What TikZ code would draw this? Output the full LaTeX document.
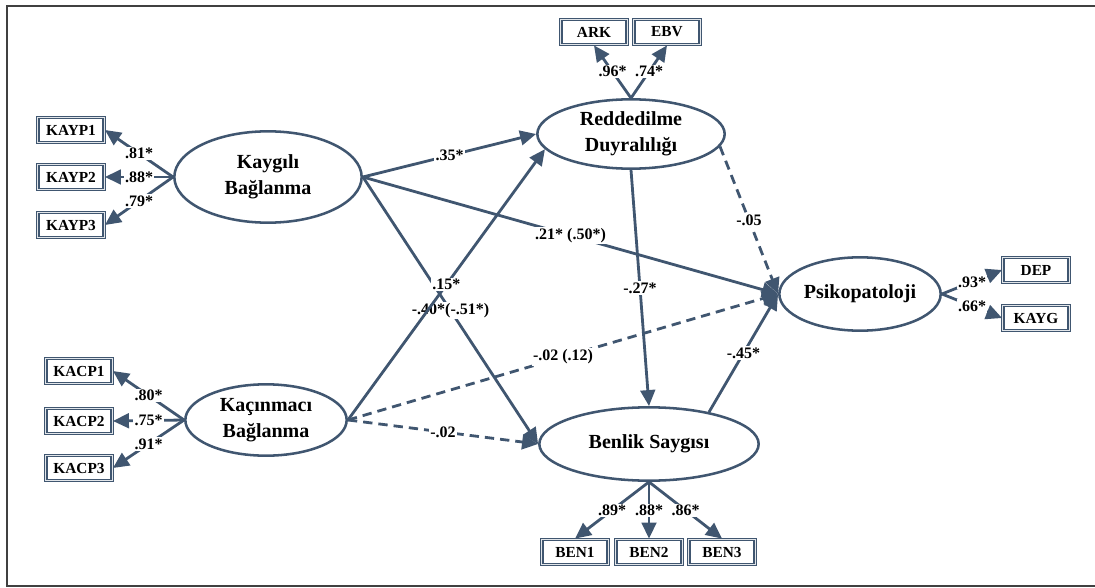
\documentclass[tikz,border=0pt]{standalone}
\usepackage{fontspec}
\setmainfont{Liberation Serif}
\usetikzlibrary{arrows.meta,positioning,shapes.geometric}
\definecolor{semline}{RGB}{64,86,112}

\begin{document}
\begin{tikzpicture}[x=0.75pt,y=-0.75pt,on grid,
	latent/.style={ellipse, draw=semline, line width=1.9pt, inner sep=0pt, align=center, text=black,
		font=\fontsize{15}{19.5}\selectfont\bfseries},
	indic/.style={rectangle, draw=semline, line width=1.1pt, double=white!85!semline, double distance=0.5pt,
		minimum width=49.8pt, minimum height=19pt, inner sep=0pt, text=black,
		font=\fontsize{11.5}{13}\selectfont\bfseries},
	coef/.style={fill=white, inner sep=1pt, text=black, font=\fontsize{12}{13}\selectfont\bfseries},
	link/.style={-{Triangle[length=12pt,width=11pt]}, semline, line width=2.1pt},
	nonsig/.style={dash pattern=on 7pt off 4.5pt}]
		\useasboundingbox (0,0) rectangle (1095,588);
		\draw[black!75, line width=1pt] (1095,6) -- (7,6) -- (7,586) -- (1095,586);
		% latent variables
		\node[latent, minimum width=140.5pt, minimum height=68.5pt] (kaygili) at (268,177) {Kaygılı\\Bağlanma};
		\node[latent, minimum width=121pt, minimum height=53.5pt] (kacin) at (266,420) {Kaçınmacı\\Bağlanma};
		\node[latent, minimum width=140.5pt, minimum height=52pt] (redd) at (631,134) {Reddedilme\\Duyralılığı};
		\node[latent, minimum width=164.5pt, minimum height=55pt] (benlik) at (649,444) {Benlik Saygısı};
		\node[latent, minimum width=121pt, minimum height=55pt] (psiko) at (860,294) {Psikopatoloji};
		% indicators
		\node[indic] (kayp2) at (71,177) {KAYP2};
		\node[indic] (kayp1) [above=35.25pt of kayp2] {KAYP1};
		\node[indic] (kayp3) [below=36pt of kayp2] {KAYP3};
		\node[indic] (kacp2) at (79,421) {KACP2};
		\node[indic] (kacp1) [above=37.5pt of kacp2] {KACP1};
		\node[indic] (kacp3) [below=35.25pt of kacp2] {KACP3};
		\node[indic] (ark) at (594,32) {ARK};
		\node[indic] (ebv) [right=54.75pt of ark] {EBV};
		\node[indic] (dep) at (1036,270) {DEP};
		\node[indic] (kaygbox) [below=36pt of dep] {KAYG};
		\node[indic] (ben2) at (649,552) {BEN2};
		\node[indic] (ben1) [left=55.5pt of ben2] {BEN1};
		\node[indic] (ben3) [right=54.75pt of ben2] {BEN3};
		% loadings
		\path[link]
		(kaygili.west) edge node[coef] {.81*} (kayp1.east)
		edge node[coef] {.88*} (kayp2.east)
		edge node[coef] {.79*} (kayp3.east)
		(kacin.west) edge node[coef] {.80*} (kacp1.east)
		edge node[coef] {.75*} (kacp2.east)
		edge node[coef] {.91*} (kacp3.east)
		(redd.north) edge node[coef] {.96*} (ark.south)
		edge node[coef] {.74*} (ebv.south)
		(psiko.east) edge node[coef] {.93*} (dep.west)
		edge node[coef] {.66*} (kaygbox.west)
		(benlik.south) edge node[coef] {.89*} (ben1.north)
		edge node[coef] {.88*} (ben2.north)
		edge node[coef] {.86*} (ben3.north);
		% structural paths
		\path[link]
		(kaygili.east) edge node[coef] {.35*} (redd.west)
		edge node[coef] {.21* (.50*)} (psiko.west)
		edge node[coef] {-.40*(-.51*)} (benlik.west)
		(kacin.east) edge node[coef] {.15*} (redd.190)
		edge [nonsig] node[coef] {-.02 (.12)} (psiko.west)
		edge [nonsig] node[coef] {-.02} (benlik.west)
		(redd.south) edge node[coef] {-.27*} (benlik.north)
		(redd.-8) edge [nonsig] node[coef] {-.05} (psiko.west)
		(benlik.28) edge node[coef] {-.45*} (psiko.west);
	\end{tikzpicture}
\end{document}
